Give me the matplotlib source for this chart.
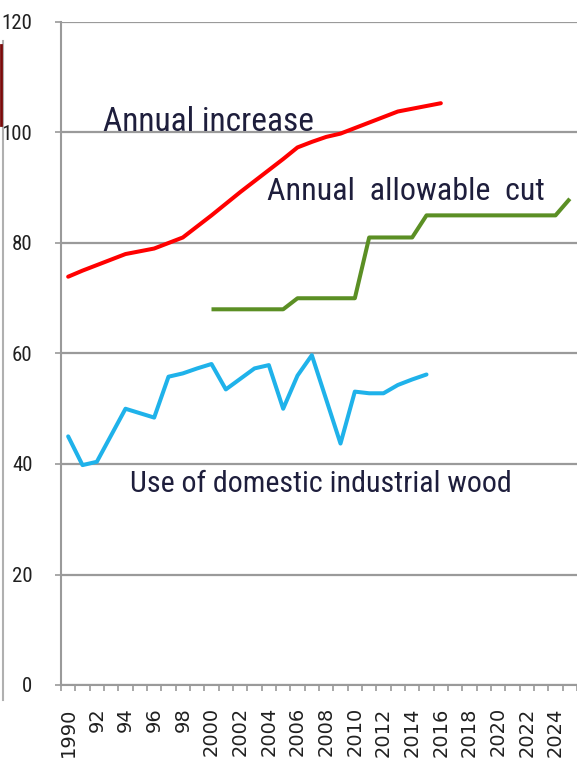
import matplotlib
matplotlib.use("Agg")
import matplotlib.pyplot as plt
from matplotlib import font_manager
from matplotlib.lines import Line2D

# valori
years_increase = list(range(1990, 2017))
annual_increase = [73.9, 75.0, 76.0, 77.0, 78.0, 78.5, 79.0, 80.0, 81.0, 83.0,
                   85.0, 87.1, 89.2, 91.2, 93.2, 95.2, 97.3, 98.3, 99.2, 99.8,
                   100.8, 101.8, 102.8, 103.8, 104.3, 104.8, 105.3]

years_cut = list(range(2000, 2026))
allowable_cut = [68, 68, 68, 68, 68, 68, 70, 70, 70, 70, 70, 81, 81, 81, 81,
                 85, 85, 85, 85, 85, 85, 85, 85, 85, 85, 88]

years_wood = list(range(1990, 2016))
domestic_wood = [45.0, 39.8, 40.4, 45.2, 50.0, 49.2, 48.4, 55.8, 56.4, 57.3,
                 58.1, 53.5, 55.4, 57.3, 57.9, 50.0, 56.0, 59.7, 51.7, 43.7,
                 53.1, 52.8, 52.8, 54.3, 55.3, 56.2]

tick_years = list(range(1990, 2025, 2))
tick_labels = ["1990", "92", "94", "96", "98"] + [str(y) for y in range(2000, 2025, 2)]
y_ticks = [0, 20, 40, 60, 80, 100, 120]

grid_col = "#9a9a9a"
text_col = "#1e1e3c"

# cerca un carattere stretto, altrimenti riduci la dimensione
fonts = font_manager.fontManager.ttflist
names = {f.name for f in fonts}
narrow_kw = None
for cand in ["Roboto Condensed", "Liberation Sans Narrow", "Open Sans Condensed"]:
    if cand in names:
        narrow_kw = dict(family=cand)
        scale = 1.0
        break
if narrow_kw is None:
    narrow_kw = dict(family="Liberation Sans")
    scale = 0.84

fig = plt.figure(figsize=(5.77, 7.61), dpi=100)
ax = fig.add_axes([61 / 577, 76 / 761, 516 / 577, 663 / 761])

ax.plot(years_increase, annual_increase, color="#ff0000", lw=2.9, solid_capstyle="round", zorder=3)
ax.plot(years_cut, allowable_cut, color="#5b8f24", lw=2.9, solid_capstyle="butt", zorder=3)
ax.plot(years_wood, domestic_wood, color="#1fb2ea", lw=2.9, solid_capstyle="round", zorder=3)

ax.set_xlim(1989.5, 2025.5)
ax.set_ylim(0, 120)

# assi e griglia in stile Excel
for s in ["top", "right"]:
    ax.spines[s].set_visible(False)
for s in ["left", "bottom"]:
    ax.spines[s].set_color(grid_col)
    ax.spines[s].set_linewidth(1.5)
ax.set_yticks(y_ticks)
ax.set_yticklabels([str(v) for v in y_ticks], fontsize=15 * scale, color="#202020", **narrow_kw)
ax.yaxis.grid(True, color=grid_col, lw=1.6)
ax.tick_params(axis="y", direction="out", length=4.5, width=1.2, color=grid_col, pad=16)
ax.set_axisbelow(True)

# tacche ai confini delle categorie, etichette al centro
ax.set_xticks([y - 0.5 for y in range(1990, 2027)])
ax.set_xticklabels([])
ax.tick_params(axis="x", which="major", direction="out", length=4.5, width=1.2, color=grid_col)
ax.set_xticks(tick_years, minor=True)
ax.set_xticklabels(tick_labels, minor=True, rotation=90, family="DejaVu Sans",
                   fontsize=14, color="#202020")
ax.tick_params(axis="x", which="minor", length=0, pad=16)

ax.text(1992.4, 100.2, "Annual increase", fontsize=24 * scale,
        color=text_col, ha="left", va="baseline", **narrow_kw)
ax.text(2003.9, 87.8, "Annual  allowable  cut", fontsize=23 * scale,
        color=text_col, ha="left", va="baseline", **narrow_kw)
ax.text(1994.3, 35.0, "Use of domestic industrial wood", fontsize=21.6 * scale,
        color=text_col, ha="left", va="baseline", **narrow_kw)

# bordo di un'altra immagine a sinistra
fig.add_artist(Line2D([3 / 577, 3 / 577], [1 - 41 / 761, 1 - 700 / 761],
                      transform=fig.transFigure, color="#b0b0b0", lw=1.5))
fig.add_artist(Line2D([1 / 577, 1 / 577], [1 - 45 / 761, 1 - 125 / 761],
                      transform=fig.transFigure, color="#7a0a0a", lw=2))

fig.savefig("out.png", dpi=100)
